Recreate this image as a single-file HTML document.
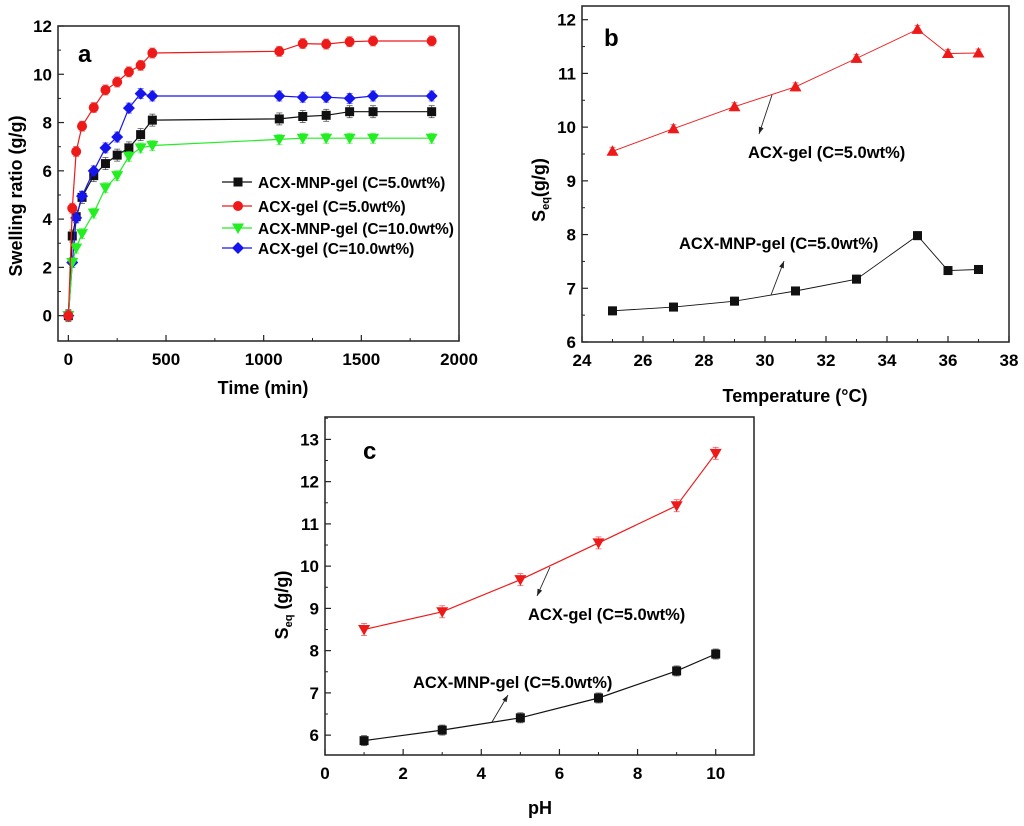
<!DOCTYPE html>
<html><head><meta charset="utf-8"><style>
html,body{margin:0;padding:0;background:#fff;}
svg{display:block;font-family:"Liberation Sans",Arial,sans-serif;font-weight:bold;}
</style></head><body>
<svg id="c" width="1024" height="826" viewBox="0 0 1024 826" xmlns="http://www.w3.org/2000/svg"></svg>
<script>
// Panel a data
const aTimes=[0,20,40,70,130,190,250,310,370,430,1080,1200,1320,1440,1560,1860];
const aBlack=[0,3.3,4.1,4.9,5.8,6.3,6.65,6.95,7.5,8.1,8.15,8.25,8.3,8.45,8.45,8.45];
const aRed=[0,4.45,6.8,7.85,8.62,9.35,9.68,10.1,10.37,10.88,10.95,11.27,11.25,11.35,11.38,11.38];
const aGreen=[0,2.2,2.8,3.4,4.25,5.3,5.8,6.6,6.95,7.05,7.3,7.35,7.35,7.35,7.35,7.35];
const aBlue=[0,2.2,4.05,4.95,6.0,6.95,7.4,8.6,9.2,9.1,9.1,9.05,9.05,9.0,9.1,9.1];
const aXTicks=[0,500,1000,1500,2000];
const aYTicks=[0,2,4,6,8,10,12];
const aLegend=["ACX-MNP-gel (C=5.0wt%)","ACX-gel (C=5.0wt%)","ACX-MNP-gel (C=10.0wt%)","ACX-gel (C=10.0wt%)"];
// Panel b data
const bTemps=[25,27,29,31,33,35,36,37];
const bRed=[9.55,9.97,10.38,10.75,11.28,11.82,11.37,11.38];
const bBlack=[6.58,6.65,6.76,6.95,7.17,7.98,7.33,7.35];
const bXTicks=[24,26,28,30,32,34,36,38];
const bYTicks=[6,7,8,9,10,11,12];
// Panel c data
const cPH=[1,3,5,7,9,10];
const cRed=[8.5,8.92,9.68,10.55,11.43,12.67];
const cBlack=[5.87,6.12,6.41,6.88,7.52,7.92];
const cXTicks=[0,2,4,6,8,10];
const cYTicks=[6,7,8,9,10,11,12,13];

const NS="http://www.w3.org/2000/svg";
const svg=document.getElementById('c');
function mk(tag,attrs,parent){const e=document.createElementNS(NS,tag);for(const k in attrs)e.setAttribute(k,attrs[k]);(parent||svg).appendChild(e);return e;}
function txt(s,attrs,parent){const e=mk('text',attrs,parent);e.textContent=s;return e;}

function panel(p){
  const g=mk('g',{});
  
  
  const sx=v=>p.L+(v-p.x0)/(p.x1-p.x0)*(p.R-p.L);
  const sy=v=>p.B-(v-p.y0)/(p.y1-p.y0)*(p.B-p.T);
  const box=mk('rect',{x:p.L,y:p.T,width:p.R-p.L,height:p.B-p.T,fill:'none',stroke:'#222','stroke-width':1.5},g);
  
  
  p.xt.forEach((v,i)=>{
    const x=sx(v);
    mk('line',{x1:x,x2:x,y1:p.B,y2:p.B-6,stroke:'#222','stroke-width':1.2},g);
    if(i<p.xt.length-1){const xm=sx(v+(p.xt[1]-p.xt[0])/2);mk('line',{x1:xm,x2:xm,y1:p.B,y2:p.B-3,stroke:'#222','stroke-width':1},g);}
    const t=txt(String(v),{x:x,y:p.B+24,'text-anchor':'middle','font-size':17},g);
    
    
  });
  p.yt.forEach((v,i)=>{
    const y=sy(v);
    mk('line',{x1:p.L,x2:p.L+6,y1:y,y2:y,stroke:'#222','stroke-width':1.2},g);
    const ym=sy(v+(p.yt[1]-p.yt[0])/2);
    if(ym>p.T) mk('line',{x1:p.L,x2:p.L+3,y1:ym,y2:ym,stroke:'#222','stroke-width':1},g);
    const t=txt(String(v),{x:p.L-6,y:y+6,'text-anchor':'end','font-size':17},g);
    
    
  });
  const xt=txt(p.xlabel,{x:p.xlx,y:p.xly,'text-anchor':'middle','font-size':18},g);
  
  
  const yt=mk('text',{transform:`translate(${p.ylx},${p.yly}) rotate(-90)`,'text-anchor':'middle','font-size':18},g);
  
  
  yt.innerHTML=p.ylabel;
  const pl=txt(p.letter,{x:p.lx,y:p.ly,'font-size':24},g);
  
  
  p.series.forEach(s=>{
    const sg=mk('g',{},g);
    
    
    const pts=s.x.map((xv,i)=>sx(xv).toFixed(1)+','+sy(s.y[i]).toFixed(1)).join(' ');
    mk('polyline',{points:pts,fill:'none',stroke:s.color,'stroke-width':s.lw||1.2},sg);
    s.x.forEach((xv,i)=>{
      const x=sx(xv),y=sy(s.y[i]),e=s.err||5;
      mk('line',{x1:x,x2:x,y1:y-e,y2:y+e,stroke:s.color,'stroke-width':0.8,opacity:0.7},sg);
      mk('line',{x1:x-3,x2:x+3,y1:y-e,y2:y-e,stroke:s.color,'stroke-width':0.8,opacity:0.7},sg);
      mk('line',{x1:x-3,x2:x+3,y1:y+e,y2:y+e,stroke:s.color,'stroke-width':0.8,opacity:0.7},sg);
      drawMarker(sg,s.marker,x,y,s.color);
    });
  });
  return {sx,sy,g};
}
function drawMarker(g,m,x,y,c){
  let e;
  if(m==='sq') e=mk('rect',{x:x-4.5,y:y-4.5,width:9,height:9,fill:c},g);
  else if(m==='ci') e=mk('circle',{cx:x,cy:y,r:5,fill:c},g);
  else if(m==='tu') e=mk('polygon',{points:`${x},${y-6} ${x-6},${y+4.5} ${x+6},${y+4.5}`,fill:c},g);
  else if(m==='td') e=mk('polygon',{points:`${x},${y+6} ${x-6},${y-4.5} ${x+6},${y-4.5}`,fill:c},g);
  else if(m==='di') e=mk('polygon',{points:`${x},${y-6} ${x+6},${y} ${x},${y+6} ${x-6},${y}`,fill:c},g);
  
  
}
function arrow(g,x1,y1,x2,y2){
  mk('line',{x1,y1,x2,y2,stroke:'#222','stroke-width':0.9},g);
  const a=Math.atan2(y2-y1,x2-x1),L=7,w=2.5;
  const bx=x2-L*Math.cos(a),by=y2-L*Math.sin(a);
  mk('polygon',{points:`${x2},${y2} ${bx-w*Math.sin(a)},${by+w*Math.cos(a)} ${bx+w*Math.sin(a)},${by-w*Math.cos(a)}`,fill:'#222'},g);
}

// Panel a
const pa=panel({name:'panel-a',L:58,R:459,T:26,B:341,x0:-53,x1:2000,y0:-1.05,y1:12,xt:aXTicks,yt:aYTicks,
  xlabel:'Time (min)',xlx:263,xly:394,ylabel:'Swelling ratio (g/g)',ylx:22,yly:196,letter:'a',lx:78,ly:62,
  series:[
    {name:'series-acx-mnp-gel-5',x:aTimes,y:aBlack,color:'#111',marker:'sq',err:6},
    {name:'series-acx-gel-10',x:aTimes,y:aBlue,color:'#1515ee',marker:'di',err:5},
    {name:'series-acx-mnp-gel-10',x:aTimes,y:aGreen,color:'#22ee22',marker:'td',err:5},
    {name:'series-acx-gel-5',x:aTimes,y:aRed,color:'#ee1a1a',marker:'ci',err:5}
  ]});
const legCols=['#111','#ee1a1a','#22ee22','#1515ee'],legM=['sq','ci','td','di'],legY=[182,206,228,248];
aLegend.forEach((s,i)=>{
  const lg=mk('g',{},pa.g);
  
  
  mk('line',{x1:222,x2:252,y1:legY[i],y2:legY[i],stroke:legCols[i],'stroke-width':1.3},lg);
  drawMarker(lg,legM[i],238,legY[i],legCols[i]);
  txt(s,{x:258,y:legY[i]+6,'font-size':15.5},lg);
});

// Panel b
const pb=panel({name:'panel-b',L:582,R:1009,T:6,B:342,x0:24,x1:38,y0:6,y1:12.255,xt:bXTicks,yt:bYTicks,
  xlabel:'Temperature (°C)',xlx:795,xly:402,ylabel:'S<tspan font-size="11" dy="4">eq</tspan><tspan dy="-4">(g/g)</tspan>',ylx:545,yly:190,letter:'b',lx:604,ly:46,
  series:[
    {name:'series-acx-gel',x:bTemps,y:bRed,color:'#ee1a1a',marker:'tu',err:4,lw:0.9},
    {name:'series-acx-mnp-gel',x:bTemps,y:bBlack,color:'#111',marker:'sq',err:4,lw:0.9}
  ]});
arrow(pb.g,772,95,759,134);
arrow(pb.g,771,295,784,261);
let t=txt('ACX-gel (C=5.0wt%)',{x:748,y:158,'font-size':16.5},pb.g);

t=txt('ACX-MNP-gel (C=5.0wt%)',{x:679,y:249,'font-size':16.5},pb.g);


// Panel c
const pc=panel({name:'panel-c',L:325,R:754,T:417,B:755,x0:0,x1:10.98,y0:5.53,y1:13.53,xt:cXTicks,yt:cYTicks,
  xlabel:'pH',xlx:540,xly:814,ylabel:'S<tspan font-size="11" dy="4">eq</tspan><tspan dy="-4"> (g/g)</tspan>',ylx:288,yly:605,letter:'c',lx:363,ly:459,
  series:[
    {name:'series-acx-gel',x:cPH,y:cRed,color:'#ee1a1a',marker:'td',err:6},
    {name:'series-acx-mnp-gel',x:cPH,y:cBlack,color:'#111',marker:'sq',err:5}
  ]});
arrow(pc.g,550,567,537,596);
arrow(pc.g,492,722,508,695);
t=txt('ACX-gel (C=5.0wt%)',{x:528,y:620,'font-size':16.5},pc.g);

t=txt('ACX-MNP-gel (C=5.0wt%)',{x:413,y:688,'font-size':16.5},pc.g);

</script>
</body></html>
